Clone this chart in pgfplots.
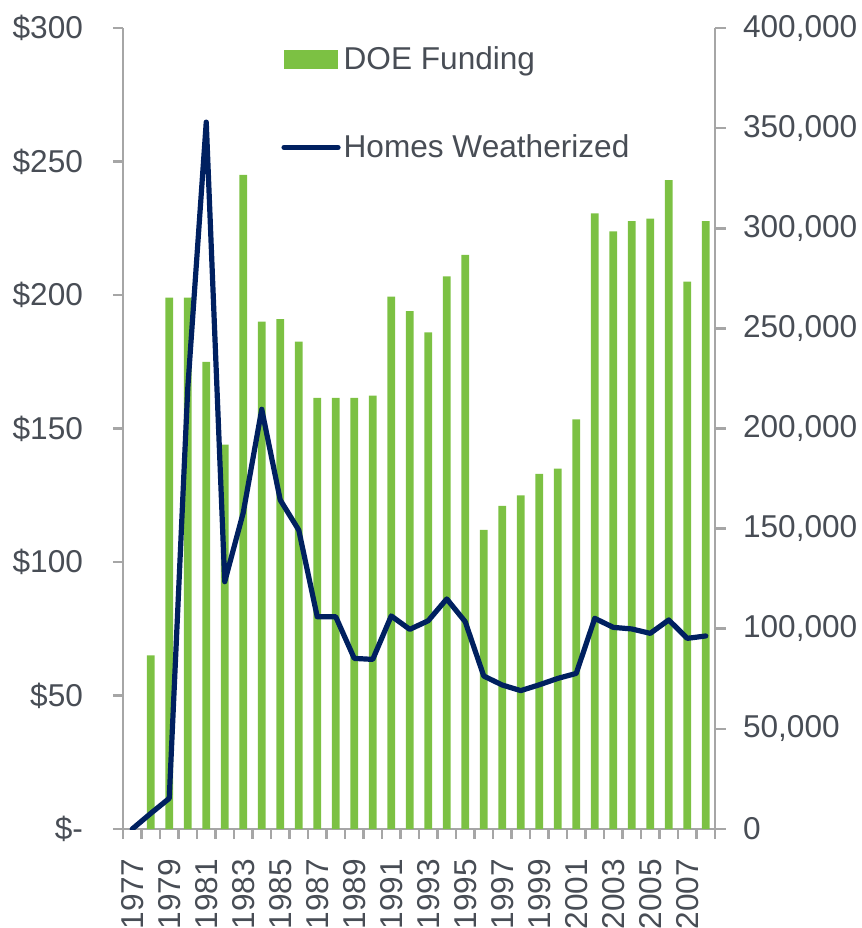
\documentclass[border=0pt]{standalone}
\usepackage{fontspec}
\setmainfont{Liberation Sans}
\usepackage{pgfplots}
\pgfplotsset{compat=1.18}
\definecolor{barg}{RGB}{124,193,67}
\definecolor{navy}{RGB}{0,32,96}
\definecolor{txt}{RGB}{72,77,85}
\definecolor{axg}{RGB}{166,166,166}
\pgfplotstableread{
x y
1 65
2 199
3 199
4 175
5 144
6 245
7 190
8 191
9 182.5
10 161.5
11 161.5
12 161.5
13 162.3
14 199.4
15 194
16 186
17 207
18 215
19 112
20 121
21 125
22 133
23 135
24 153.4
25 230.6
26 223.8
27 227.7
28 228.6
29 243
30 205
31 227.7
}\funding
\pgfplotstableread{
x y
0 0
1 7800
2 15300
3 220000
4 353000
5 123500
6 158000
7 209600
8 164300
9 149300
10 106000
11 106000
12 85200
13 84700
14 106400
15 99700
16 104000
17 114900
18 103500
19 76400
20 71900
21 69100
22 72000
23 75200
24 77700
25 105200
26 100700
27 99900
28 97700
29 104400
30 95200
31 96400
}\homes
\begin{document}
\begin{tikzpicture}[font=\fontsize{15.8}{19}\selectfont]
\path[use as bounding box] (-61.5pt,-49.5pt) rectangle (369.5pt,414.5pt);
\begin{axis}[
  at={(0pt,0pt)}, anchor=south west,
  scale only axis, width=296pt, height=400.5pt,
  xmin=-0.5, xmax=31.5, ymin=0, ymax=300,
  axis x line*=bottom, axis y line*=left,
  axis line style={axg, line width=1.3pt},
  tick style={axg, line width=1.3pt},
  tick align=outside,
  major tick length=5pt, minor tick length=5pt,
  ytick={0,50,...,300},
  yticklabels={\$-,\$50,\$100,\$150,\$200,\$250,\$300},
  xtick={0,2,...,30},
  xticklabels={1977,1979,1981,1983,1985,1987,1989,1991,1993,1995,1997,1999,2001,2003,2005,2007},
  major x tick style={draw=none},
  minor xtick={-0.5,0.5,...,31.5},
  tick label style={text=txt},
  yticklabel style={xshift=-11.5pt},
  xticklabel style={rotate=90, anchor=east, xshift=-6.5pt},
]
\addplot[ybar, bar width=3.9pt, bar shift=0pt, fill=barg, draw=none] table[x=x,y=y] {\funding};
\end{axis}
\begin{axis}[
  at={(0pt,0pt)}, anchor=south west,
  scale only axis, width=296pt, height=400.5pt,
  xmin=-0.5, xmax=31.5, ymin=0, ymax=400000,
  axis x line=none, axis y line*=right,
  axis line style={axg, line width=1.3pt},
  tick style={axg, line width=1.3pt},
  tick align=outside,
  major tick length=5.5pt,
  ytick={0,50000,...,400000},
  yticklabels={0,{50,000},{100,000},{150,000},{200,000},{250,000},{300,000},{350,000},{400,000}},
  scaled y ticks=false,
  tick label style={text=txt},
  yticklabel style={xshift=5pt},
  legend style={at={(axis description cs:0.267,0.981)}, anchor=north west, draw=none, fill=none,
    text=txt, row sep=28pt, inner sep=0pt, nodes={inner sep=1.5pt}},
  legend cell align=left,
]
\addlegendimage{legend image code/.code={\fill[barg] (0pt,-4.5pt) rectangle (26.5pt,4.5pt);}}
\addlegendentry{DOE Funding}
\addlegendimage{legend image code/.code={\draw[navy, line width=2.6pt, line cap=round] (0pt,0pt) -- (27pt,0pt);}}
\addlegendentry{Homes Weatherized}
\addplot[navy, line width=2.6pt, line join=round, line cap=round, forget plot] table[x=x,y=y] {\homes};
\end{axis}
\end{tikzpicture}
\end{document}
